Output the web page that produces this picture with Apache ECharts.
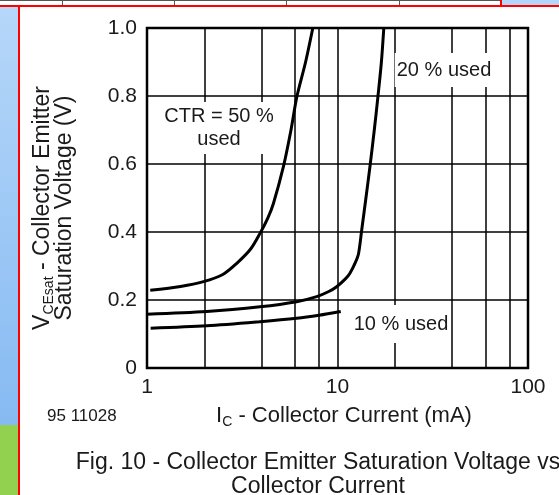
<!DOCTYPE html>
<html>
<head>
<meta charset="utf-8">
<script src="https://cdn.jsdelivr.net/npm/echarts@6/dist/echarts.min.js"></script>
<style>
  html, body { margin: 0; padding: 0; background: #fff; }
  #wrap { position: relative; width: 559px; height: 495px; overflow: hidden; background: #fff; }
  .d { position: absolute; }
  #chart { position: absolute; left: 0; top: 0; width: 559px; height: 495px; }
</style>
</head>
<body>
<div id="wrap">
  <!-- page decoration around the figure -->
  <div class="d" style="left:0;top:0;width:501px;height:1px;background:#555"></div>
  <div class="d" style="left:62px;top:0;width:1px;height:5px;background:#555"></div>
  <div class="d" style="left:174px;top:0;width:1px;height:5px;background:#555"></div>
  <div class="d" style="left:286px;top:0;width:1px;height:5px;background:#555"></div>
  <div class="d" style="left:399px;top:0;width:1px;height:5px;background:#555"></div>
  <div class="d" style="left:502px;top:0;width:57px;height:5px;background:#b4d6f8"></div>
  <div class="d" style="left:0;top:7px;width:18px;height:418px;background:linear-gradient(#b6d7f9,#86baf2)"></div>
  <div class="d" style="left:0;top:425px;width:18px;height:70px;background:#92d050"></div>
  <div class="d" style="left:0;top:5px;width:502px;height:2px;background:#f00"></div>
  <div class="d" style="left:500px;top:0;width:2px;height:6px;background:#f00"></div>
  <div class="d" style="left:18px;top:5px;width:541px;height:2px;background:#f00"></div>
  <div class="d" style="left:18px;top:5px;width:2px;height:490px;background:#f00"></div>
  <div id="chart"></div>
</div>
<script>
// 数据：曲线点 (Ic mA, Vce V)
var ctr50 = [[1.04, 0.229], [1.5, 0.24], [1.98, 0.254], [2.5, 0.275], [2.96, 0.308], [3.5, 0.35], [3.92, 0.396],
  [4.3, 0.44], [4.61, 0.484], [5.2, 0.592], [5.7, 0.7], [6.12, 0.798], [6.8, 0.9], [7.42, 1.0]];
var ctr20 = [[1.0, 0.158], [2.06, 0.166], [3.92, 0.18], [6.1, 0.195], [7.78, 0.21], [9.0, 0.225], [9.9, 0.239],
  [11.0, 0.262], [11.6, 0.278], [12.4, 0.31], [12.9, 0.337], [13.4, 0.406], [14.1, 0.5], [14.8, 0.592],
  [15.6, 0.7], [16.3, 0.798], [17.0, 0.9], [17.5, 1.0]];
var ctr10 = [[1.045, 0.117], [2.06, 0.124], [3.92, 0.136], [6.1, 0.146], [8.0, 0.155], [10.4, 0.166]];
var xGrid = [2, 4, 6, 8, 20, 40, 60, 80];
var yTicks = [0, 0.2, 0.4, 0.6, 0.8, 1.0];

var font = "'Liberation Sans', Arial, sans-serif";
var ink = "#1a1a1a";

var myChart = echarts.init(document.getElementById("chart"));

function lineSeries(name, data) {
  return {
    name: name,
    type: "line",
    data: data,
    smooth: 0.3,
    showSymbol: false,
    silent: true,
    z: 5,
    lineStyle: { color: "#000", width: 3 },
  };
}

var s10 = lineSeries("10 %", ctr10);
// 补上 2,4,6,8,20... 处的竖向网格线
s10.markLine = {
  silent: true,
  symbol: "none",
  label: { show: false },
  lineStyle: { color: "#000", width: 1.5, type: "solid" },
  data: xGrid.map(function (v) { return { xAxis: v }; }),
  animation: false,
};

var option = {
  animation: false,
  backgroundColor: "transparent",
  textStyle: { fontFamily: font },
  grid: {
    left: 147, top: 28, width: 381, height: 340,
    show: true, borderColor: "#000", borderWidth: 2.5, backgroundColor: "transparent",
  },
  xAxis: {
    type: "log", logBase: 10, min: 1, max: 100,
    axisLine: { show: false },
    axisTick: { show: false },
    axisLabel: { color: ink, fontSize: 21, fontFamily: font, margin: 9 },
    splitLine: { show: true, lineStyle: { color: "#000", width: 1.5 } },
    minorSplitLine: { show: false },
  },
  yAxis: {
    type: "value", min: 0, max: 1, interval: 0.2,
    axisLine: { show: false },
    axisTick: { show: false },
    axisLabel: {
      color: ink, fontSize: 21, fontFamily: font, margin: 10,
      formatter: function (v) { return v === 0 ? "0" : v.toFixed(1); },
    },
    splitLine: { show: true, lineStyle: { color: "#000", width: 1.5 } },
  },
  graphic: [
    {
      type: "text", z: 100, x: 43, y: 208, rotation: Math.PI / 2,
      style: {
        text: "{v|V}{s|CEsat}{v| - Collector Emitter}",
        align: "center", verticalAlign: "middle", fill: ink,
        rich: {
          v: { fontSize: 23, fontFamily: font, fill: ink, lineHeight: 24 },
          s: { fontSize: 14, fontFamily: font, fill: ink, padding: [12, 0, 0, 0] },
        },
      },
    },
    {
      type: "text", z: 100, x: 65, y: 208, rotation: Math.PI / 2,
      style: { text: "Saturation Voltage (V)", font: "23px " + font, fill: ink, align: "center", verticalAlign: "middle" },
    },
    {
      type: "text", z: 100, x: 344, y: 416,
      style: {
        text: "{v|I}{s|C}{v| - Collector Current (mA)}",
        align: "center", verticalAlign: "middle", fill: ink,
        rich: {
          v: { fontSize: 22, fontFamily: font, fill: ink, lineHeight: 24 },
          s: { fontSize: 14, fontFamily: font, fill: ink, padding: [12, 0, 0, 0] },
        },
      },
    },
    {
      type: "text", z: 100, x: 47, y: 416,
      style: { text: "95 11028", font: "17px " + font, fill: ink, align: "left", verticalAlign: "middle" },
    },
    {
      type: "text", z: 100, x: 318, y: 475,
      style: {
        text: "Fig. 10 - Collector Emitter Saturation Voltage vs\nCollector Current",
        font: "23px " + font, lineHeight: 24, fill: ink, align: "center", verticalAlign: "middle",
      },
    },
    {
      type: "text", z: 100, x: 444, y: 70,
      style: {
        text: "20 % used", font: "20px " + font, fill: ink, align: "center", verticalAlign: "middle",
        backgroundColor: "#fff", padding: [7, 2, 7, 2],
      },
    },
    {
      type: "text", z: 100, x: 219, y: 128,
      style: {
        text: "CTR = 50 %\nused", font: "20px " + font, lineHeight: 23, fill: ink, align: "center", verticalAlign: "middle",
        backgroundColor: "#fff", padding: [3, 2, 3, 2],
      },
    },
    {
      type: "text", z: 100, x: 401, y: 324,
      style: {
        text: "10 % used", font: "20px " + font, fill: ink, align: "center", verticalAlign: "middle",
        backgroundColor: "#fff", padding: [9, 2, 9, 2],
      },
    },
  ],
  series: [lineSeries("CTR = 50 %", ctr50), lineSeries("20 %", ctr20), s10],
};

myChart.setOption(option);
</script>
</body>
</html>
